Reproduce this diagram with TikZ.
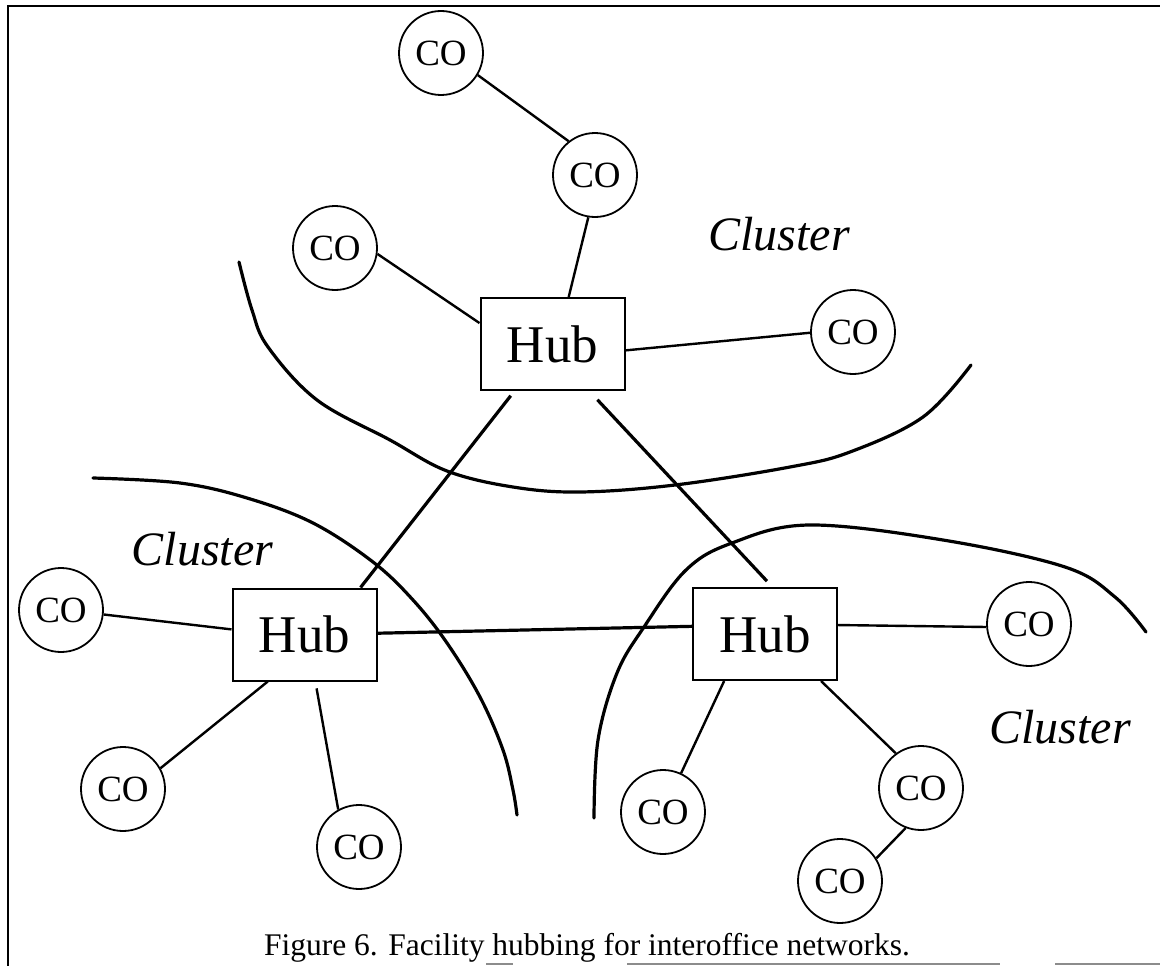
\documentclass[tikz,border=0pt]{standalone}
\usepackage{fontspec}
\setmainfont{Liberation Serif}
\usetikzlibrary{calc}
\begin{document}
\begin{tikzpicture}[x=1pt,y=-1pt,
  co/.style={draw,circle,line width=1.8pt,minimum size=84pt,inner sep=0pt,
             font=\fontsize{37}{40}\selectfont},
  hub/.style={draw,rectangle,line width=2pt,minimum width=144pt,minimum height=92pt,
              inner sep=0pt,font=\fontsize{53}{60}\selectfont},
  link/.style={line width=2.4pt},
  trunk/.style={line width=3.2pt},
  boundary/.style={line width=3.2pt,line cap=round},
  clusterlabel/.style={font=\fontsize{48}{52}\selectfont\itshape,anchor=base,inner sep=0pt},
  frameline/.style={line width=2.4pt},
  pagerule/.style={line width=1.5pt,black!45}
]
\useasboundingbox (0,0) rectangle (1160,966);

% frame
\draw[frameline] (8,966) -- (8,6) -- (1160,6);
\draw[pagerule] (486,964) -- (513,964);
\draw[pagerule] (627,964) -- (1000,964);
\draw[pagerule] (1055,964) -- (1160,964);

% hubs
\node[hub] (th) at (552.5,344) {Hub};
\node[hub] (lh) at (304.5,634.5) {Hub};
\node[hub] (rh) at (765,634) {Hub};

% central offices
\node[co] (c1) at (441,53) {CO};
\node[co] (c2) at (595,175) {CO};
\node[co] (c3) at (335,248) {CO};
\node[co] (c4) at (853,332) {CO};
\node[co] (cl) at (61,610) {CO};
\node[co] (cll) at (123,789) {CO};
\node[co] (clb) at (359,847) {CO};
\node[co] (cr) at (1029,624) {CO};
\node[co] (crl) at (663,812) {CO};
\node[co] (crr) at (921,788) {CO};
\node[co] (crb) at (840,881) {CO};

% cluster labels
\node[clusterlabel] (lt) at (779,250) {Cluster};
\node[clusterlabel] (ll) at (202.5,565) {Cluster};
\node[clusterlabel] (lr) at (1060,743) {Cluster};

% cluster boundaries
\draw[boundary] plot[smooth,tension=0.6] coordinates {
  (239,262) (252,310) (268,347) (317,400) (390,440) (447,471) (513,487)
  (580,492) (675,485) (790,467) (850,452) (923,417) (971,365)};
\draw[boundary] plot[smooth,tension=0.6] coordinates {
  (93,478) (180,483) (247,498) (313,523) (373,562) (413,600) (447,643)
  (480,697) (503,750) (513,790) (517,815)};
\draw[boundary] plot[smooth,tension=0.6] coordinates {
  (594,818) (598,740) (617,673) (644,627) (686,570) (732,543) (809,525)
  (943,540) (1065,567) (1115,597) (1146,632)};

% links inside clusters
\draw[link] (c1.-31) -- (c2.128);
\draw[link] (c2.-99) -- (th.71);
\draw[link] (c3.-8) -- (th.164);
\draw[link] (th.-5) -- (c4.181);
\draw[link] (cl.-6) -- (lh.176);
\draw[link] (lh.232) -- (cll.29);
\draw[link,shorten <=7pt] (lh.-77) -- (clb.119);
\draw[link] (rh.7) -- (cr.184);
\draw[link] (rh.229) -- (crl.65);
\draw[link] (rh.-40) -- (crr.126);
\draw[link] (crr.-111) -- (crb.32);

% hub-to-hub trunks
\draw[trunk,shorten <=6pt] (th.231) -- (lh.40);
\draw[trunk,shorten <=12pt,shorten >=8pt] (th.-52) -- (rh.81);
\draw[trunk] (lh.1) -- (rh.174);

% caption
\node[font=\fontsize{31.5}{36}\selectfont,anchor=base,inner sep=0pt] (cap) at (587,955)
  {Figure 6. Facility hubbing for interoffice networks.};
\end{tikzpicture}
\end{document}
